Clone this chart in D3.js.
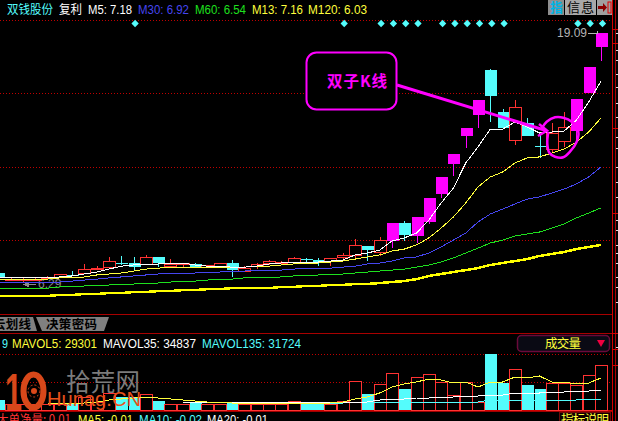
<!DOCTYPE html>
<html><head><meta charset="utf-8">
<style>html,body{margin:0;padding:0;background:#000;overflow:hidden}svg{display:block}text{white-space:pre}</style>
<script src="https://cdn.jsdelivr.net/npm/d3@7"></script></head>
<body><svg id="c" width="618" height="421"></svg>
<script>
// oldest to newest
const kinds="d,u,u,u,u,u,d,u,u,u,d,d,u,d,u,u,d,u,u,d,u,u,u,u,u,d,d,u,u,u,d,u,m,d,m,m,m,m,m,m,d,d,u,d,d,u,u,m,m,m".split(",");
const opens=[6.85,6.49,6.49,6.49,6.60,6.65,6.75,6.85,7.05,7.15,7.36,7.36,7.31,7.67,7.20,7.31,7.31,7.15,7.20,7.36,6.95,7.20,7.36,7.36,7.41,7.56,7.51,7.46,7.67,7.77,8.23,7.92,8.48,9.40,8.74,9.45,10.88,12.41,13.84,14.91,17.20,15.06,13.63,14.50,13.33,13.17,13.58,14.09,16.03,18.38];
const closes=[6.65,6.54,6.54,6.54,6.65,6.80,6.75,7.05,7.10,7.46,7.36,7.15,7.67,7.36,7.31,7.36,7.15,7.26,7.36,7.00,7.10,7.31,7.46,7.41,7.62,7.56,7.36,7.62,7.77,8.28,8.02,8.53,9.40,8.79,9.71,10.67,11.75,12.92,14.25,15.67,15.88,14.25,15.32,13.84,13.33,13.99,14.30,15.72,17.36,19.09];
const highs=[6.85,6.65,6.65,6.60,6.70,6.80,6.95,7.31,7.20,7.67,7.72,7.67,7.77,7.67,7.56,7.36,7.36,7.26,7.36,7.51,7.20,7.36,7.51,7.46,7.67,7.62,7.62,7.62,7.87,8.58,8.23,8.69,9.40,9.50,9.71,10.67,11.75,12.92,14.25,15.67,17.25,15.21,15.67,14.76,13.94,14.50,15.06,15.72,17.36,19.09];
const lows=[6.65,6.44,6.39,6.49,6.60,6.65,6.70,6.85,7.05,7.15,7.26,7.00,7.31,7.15,7.20,7.15,7.15,7.15,7.20,6.65,6.95,7.05,7.26,7.31,7.41,7.31,7.20,7.20,7.46,7.62,7.46,7.72,8.12,8.48,8.38,9.35,10.67,11.80,13.23,14.25,14.55,14.25,13.38,13.84,12.72,12.97,13.28,13.53,16.03,17.66];
const m5=[6.60,6.60,6.60,6.60,6.60,6.65,6.70,6.80,6.90,7.05,7.20,7.26,7.26,7.31,7.36,7.36,7.26,7.20,7.20,7.15,7.15,7.20,7.31,7.36,7.41,7.41,7.41,7.46,7.51,7.77,7.87,8.02,8.48,8.64,8.89,9.55,10.42,11.18,12.46,13.28,14.19,14.19,14.55,14.30,13.99,14.04,14.09,14.65,15.57,16.64];
const m13=[6.54,6.54,6.54,6.54,6.54,6.60,6.60,6.65,6.75,6.80,6.85,6.95,7.05,7.10,7.15,7.15,7.15,7.15,7.15,7.15,7.15,7.20,7.20,7.26,7.31,7.31,7.36,7.41,7.46,7.56,7.67,7.77,7.97,8.07,8.28,8.64,9.14,9.71,10.42,11.24,11.75,12.00,12.46,12.72,12.77,12.97,13.17,13.53,14.04,14.76];
const m30=[6.34,6.39,6.39,6.39,6.39,6.39,6.44,6.49,6.54,6.60,6.65,6.70,6.75,6.80,6.80,6.85,6.85,6.90,6.90,6.95,6.95,7.00,7.00,7.00,7.05,7.10,7.10,7.10,7.15,7.20,7.31,7.36,7.46,7.62,7.67,7.87,8.18,8.53,8.89,9.45,9.86,10.11,10.37,10.62,10.73,10.93,11.13,11.39,11.75,12.26];
const m60=[6.03,6.08,6.08,6.08,6.08,6.14,6.14,6.19,6.19,6.24,6.29,6.29,6.34,6.34,6.39,6.44,6.44,6.49,6.54,6.54,6.60,6.60,6.60,6.65,6.70,6.70,6.75,6.75,6.80,6.85,6.90,6.95,7.00,7.05,7.15,7.26,7.41,7.62,7.87,8.12,8.38,8.53,8.74,8.84,8.94,9.14,9.35,9.66,9.91,10.17];
const m120=[5.68,5.68,5.68,5.68,5.68,5.73,5.73,5.78,5.78,5.83,5.83,5.88,5.88,5.93,5.93,5.98,5.98,6.03,6.03,6.08,6.08,6.08,6.08,6.14,6.14,6.19,6.19,6.24,6.24,6.29,6.29,6.34,6.39,6.44,6.54,6.70,6.80,6.90,7.00,7.10,7.26,7.36,7.46,7.56,7.72,7.82,7.92,8.07,8.18,8.28];
const volume=[10,6,6,6,6,6,7,13,8,17,13,13,16,9,6,6,7,6,6,7,6,6,6,6,9,7,7,6,9,29,16,26,37,21,33,36,28,15,28,8,56,27,41,25,21,27,27,25,35,45].map(v=>v*1000);
const mavol5=[null,null,null,null,7,7,7,7,8,10,11,12,13,12,11,10,9,8,8,7,7,7,7,7,7,7,7,7,8,11,13,17,23,26,28,31,30,27,28,23,28,28,33,32,34,28,28,26,27,32].map(v=>v&&v*1000);
const mavol35=[null,null,null,null,null,null,null,null,null,null,null,null,null,null,null,8,8,8,8,8,8,8,8,8,8,8,8,8,8,8,8,10,11,11,12,12,13,13,14,14,15,15,17,17,17,18,18,19,19,20].map(v=>v&&v*1000);
const mavol135=[null,null,null,null,null,null,null,null,null,null,null,null,null,null,null,null,null,null,null,null,null,null,null,null,7,7,7,7,7,8,8,8,8,8,8,8,8,8,8,8,10,10,10,10,10,10,10,10,11,11].map(v=>v&&v*1000);
const diamondIdx=[11,28,31,32,33,34,36,37,38,39,40,41,47,48,49];
const headerItems=[["双钱股份",7,46,"#54fcfc"],["复利",59,23,"#fff"],["M5: 7.18",88,44,"#fff"],["M30: 6.92",138,51,"#4646f0"],["M60: 6.54",195,51,"#1ee01e"],["M13: 7.16",252,51,"#ffff3c"],["M120: 6.03",308,59,"#ffff3c"]];
const volItems=[["9",2,6,"#54fcfc"],["MAVOL5: 29301",12,85,"#ffff3c"],["MAVOL35: 34837",103,93,"#fff"],["MAVOL135: 31724",202,99,"#54fcfc"]];
const bottomItems=[["大单净量: 0.01",-3,74,"#ff3232"],["MA5: -0.01",78,55,"#ffff3c"],["MA10: -0.02",139,63,"#54fcfc"],["MA20: -0.01",207,61,"#fff"]];
const sideTicks=[29,33,50,60,74,87,103,117,137,148,167,182,197,220,230,245,253,263,277,287,302,347];
const sideRed=[29,43,128,213,333,349,365];

const RED="#ff3232",CY="#54fcfc",MG="#ff00ff",DK="#a80000",FONT="'Liberation Sans',Arial,sans-serif",CJK="'Noto Sans CJK SC',sans-serif";
const svg=d3.select("#c");
const x=d3.scaleLinear().domain([0,49]).range([-1.7,601]);
const y=d3.scaleLinear().domain([19.09,6.29]).range([33,284]);
const yv=d3.scaleLinear().domain([0,56000]).range([410,354]);
const px=i=>Math.round(x(i));
const idx=d3.range(50);
function label(g,items,yy,size){
  items.forEach(([t,xx,w,c])=>g.append("text").attr("x",xx).attr("y",yy).attr("fill",c).attr("font-size",size)
    .attr("font-family",/[^\x00-\x7f]/.test(t)?CJK:FONT).attr("textLength",w).attr("lengthAdjust","spacingAndGlyphs").text(t));
}
function hline(yy,x2,c,dash){svg.append("line").attr("x1",0).attr("x2",x2).attr("y1",yy+.5).attr("y2",yy+.5).attr("stroke",c).attr("stroke-dasharray",dash||null).attr("shape-rendering","crispEdges");}

// grid and frame
[20,93,167,240,354,382].forEach(v=>hline(v,610,"#c00000","1,2"));
[314,333].forEach(v=>hline(v,612,DK));
hline(410,612,"#d00000");hline(411,612,"#a00000");
[612,615].forEach(v=>svg.append("line").attr("x1",v+.5).attr("x2",v+.5).attr("y1",0).attr("y2",421).attr("stroke",v==612?"#d00000":DK).attr("shape-rendering","crispEdges"));
svg.selectAll(".st").data(sideTicks).join("line").attr("x1",616).attr("x2",618).attr("y1",d=>d+.5).attr("y2",d=>d+.5).attr("stroke","#ddd").attr("shape-rendering","crispEdges");
svg.selectAll(".sr").data(sideRed).join("line").attr("x1",613).attr("x2",618).attr("y1",d=>d+.5).attr("y2",d=>d+.5).attr("stroke","#d00000").attr("shape-rendering","crispEdges");

// low marker, behind the lines
svg.append("text").attr("x",38).attr("y",288).attr("fill","#8a8a8a").attr("font-size",12).attr("font-family",FONT).text("6.29");
svg.append("path").attr("d","M24 284.5H36M24 284.5l4-2v4z").attr("stroke","#8a8a8a").attr("fill","#8a8a8a").attr("shape-rendering","crispEdges");

// candles
const cg=svg.append("g").attr("shape-rendering","crispEdges");
const col=k=>k=="u"?RED:k=="d"?CY:MG;
cg.selectAll(".w").data(idx).join("line").attr("x1",i=>px(i)+.5).attr("x2",i=>px(i)+.5)
  .attr("y1",i=>y(highs[i])).attr("y2",i=>y(lows[i])).attr("stroke",i=>col(kinds[i]));
cg.selectAll(".b").data(idx).join("rect").each(function(i){
  const t=y(Math.max(opens[i],closes[i])),h=Math.max(y(Math.min(opens[i],closes[i]))-t,1);
  const s=d3.select(this);
  if(kinds[i]=="u")s.attr("x",px(i)-5.5).attr("width",12).attr("y",Math.round(t)+.5).attr("height",Math.round(h)).attr("fill","#000").attr("stroke",RED);
  else s.attr("x",px(i)-5.5).attr("width",12).attr("y",t).attr("height",h).attr("fill",col(kinds[i]));
});

// moving averages
const lg=d3.line().x((d,i)=>x(i)).y(d=>y(d));
[[m120,"#ffff00",2.5],[m60,"#1ee01e",1],[m30,"#4646f0",1],[m13,"#ffff3c",1],[m5,"#fff",1]].forEach(([a,c,w])=>
  svg.append("path").attr("d",lg(a)).attr("fill","none").attr("stroke",c).attr("stroke-width",w).attr("shape-rendering","crispEdges"));

// volume
const vg=svg.append("g").attr("shape-rendering","crispEdges");
vg.selectAll("rect").data(idx).join("rect").each(function(i){
  const s=d3.select(this),t=yv(volume[i]);
  if(kinds[i]=="d")s.attr("x",px(i)-5.5).attr("width",12).attr("y",t).attr("height",410-t).attr("fill",CY);
  else s.attr("x",px(i)-5.5).attr("width",12).attr("y",Math.round(t)+.5).attr("height",410-Math.round(t)).attr("fill","#000").attr("stroke",RED);
});
const lv=d3.line().defined(d=>d!=null).x((d,i)=>x(i)).y(d=>yv(d));
[[mavol135,CY],[mavol35,"#fff"],[mavol5,"#ffff3c"]].forEach(([a,c])=>
  svg.append("path").attr("d",lv(a)).attr("fill","none").attr("stroke",c).attr("shape-rendering","crispEdges"));

// diamonds
svg.selectAll(".dm").data(diamondIdx).join("path").attr("d",d3.symbol(d3.symbolDiamond2,34)).attr("fill",CY)
  .attr("transform",i=>`translate(${x(i)+1.5},23.5)`);

// text rows
label(svg,headerItems,14,12);
label(svg,volItems,347.5,12);
label(svg,bottomItems,424,13);

// high marker
svg.append("text").attr("x",557).attr("y",37).attr("fill","#b4b4b4").attr("font-size",12).attr("font-family",FONT).attr("textLength",30).text("19.09");
svg.append("path").attr("d","M588 33.5H597M597 31v3").attr("stroke","#b4b4b4").attr("fill","none").attr("shape-rendering","crispEdges");

// annotation
svg.append("rect").attr("x",306.5).attr("y",52.5).attr("width",90).attr("height",57).attr("rx",10).attr("fill","#000").attr("stroke",MG).attr("stroke-width",2);
svg.append("text").attr("x",327).attr("y",87).attr("fill",MG).attr("font-size",15.5).attr("font-weight","bold").attr("font-family",CJK).attr("textLength",60).text("双子K线");
svg.append("path").attr("d","M397 85L546 130.5").attr("stroke",MG).attr("stroke-width",3).attr("fill","none");
svg.append("path").attr("d","M539 124L547 130.5L538 136").attr("stroke",MG).attr("stroke-width",2.5).attr("fill","none");
svg.append("path").attr("d",d3.line().curve(d3.curveCatmullRom)([[541.7,128.3],[546.7,121.7],[555,117.3],[563.3,117.7],[571.7,121.7],[578.3,131.7],[576.7,141.7],[570,151.7],[563.3,157.3],[555,156.7],[549.3,152.7],[547.3,143.3],[548.3,131.7]]))
  .attr("fill","none").attr("stroke",MG).attr("stroke-width",2.5);

// tabs
svg.append("path").attr("d","M0 317H33L37 331H0Z").attr("fill","#808080");
svg.append("path").attr("d","M36 317H109L104 331H42Z").attr("fill","#808080");
[["云划线",-7,38],["决策密码",46,51]].forEach(([t,xx,w])=>svg.append("text").attr("x",xx).attr("y",329).attr("fill","#000").attr("font-size",12.5).attr("font-weight","bold").attr("font-family",CJK).attr("textLength",w).text(t));

// volume selector
svg.append("rect").attr("x",517.5).attr("y",335.5).attr("width",92).attr("height",16).attr("rx",4).attr("fill","#0a0a14").attr("stroke","#6a0a3a").attr("stroke-width",1.5);
svg.append("text").attr("x",545).attr("y",348).attr("fill","#ffff3c").attr("font-size",12.5).attr("font-family",CJK).attr("textLength",36).text("成交量");
svg.append("path").attr("d","M597 340H605L601 347Z").attr("fill","#f00040");

// bottom button
svg.append("rect").attr("x",559.5).attr("y",412.5).attr("width",51).attr("height",12).attr("fill","#100000").attr("stroke","#6a0a0a");
svg.append("text").attr("x",561).attr("y",424).attr("fill","#ffff3c").attr("font-size",12.5).attr("font-family",CJK).attr("textLength",48).text("指标说明");

// top buttons
svg.append("rect").attr("x",548).attr("y",0).attr("width",16).attr("height",15).attr("fill","#8e8e8e");
svg.append("text").attr("x",550).attr("y",12).attr("fill","#00b4e6").attr("font-size",13).attr("font-weight","bold").attr("font-family",CJK).text("指");
svg.append("rect").attr("x",565).attr("y",0).attr("width",31).attr("height",15).attr("fill","#a8a8a8");
svg.append("text").attr("x",567).attr("y",12).attr("fill","#000").attr("font-size",13).attr("font-family",CJK).attr("textLength",27).text("信息");
svg.append("rect").attr("x",597).attr("y",0).attr("width",15).attr("height",15).attr("fill","#a0a0a0");
svg.append("path").attr("d","M598 6H603V3L607 7.5L603 12V9H598Z").attr("fill","#8b0000");
svg.append("rect").attr("x",608).attr("y",2).attr("width",3).attr("height",11).attr("fill","none").attr("stroke","#e00000");

// watermark
const wm=svg.append("g");
wm.append("text").attr("x",5).attr("y",410).attr("fill","#d8481a").attr("font-size",52).attr("font-weight","bold").attr("font-family",FONT).attr("textLength",17).attr("lengthAdjust","spacingAndGlyphs").text("1");
wm.append("ellipse").attr("cx",33.5).attr("cy",391).attr("rx",10).attr("ry",16.5).attr("fill","none").attr("stroke","#d8481a").attr("stroke-width",6);
wm.append("circle").attr("cx",34).attr("cy",391).attr("r",3).attr("fill","#d8481a");
wm.append("circle").attr("cx",34).attr("cy",391).attr("r",6).attr("fill","none").attr("stroke","#d8481a").attr("stroke-dasharray","2,2");
wm.append("text").attr("x",66).attr("y",391).attr("fill","#7c7c7c").attr("font-size",24.5).attr("font-family",CJK).attr("textLength",74).text("拾荒网");
wm.append("text").attr("x",47).attr("y",406).attr("fill","#e8501a").attr("font-size",20).attr("font-family",FONT).attr("textLength",94).attr("lengthAdjust","spacingAndGlyphs").text("Hunag.CN");
</script></body></html>
